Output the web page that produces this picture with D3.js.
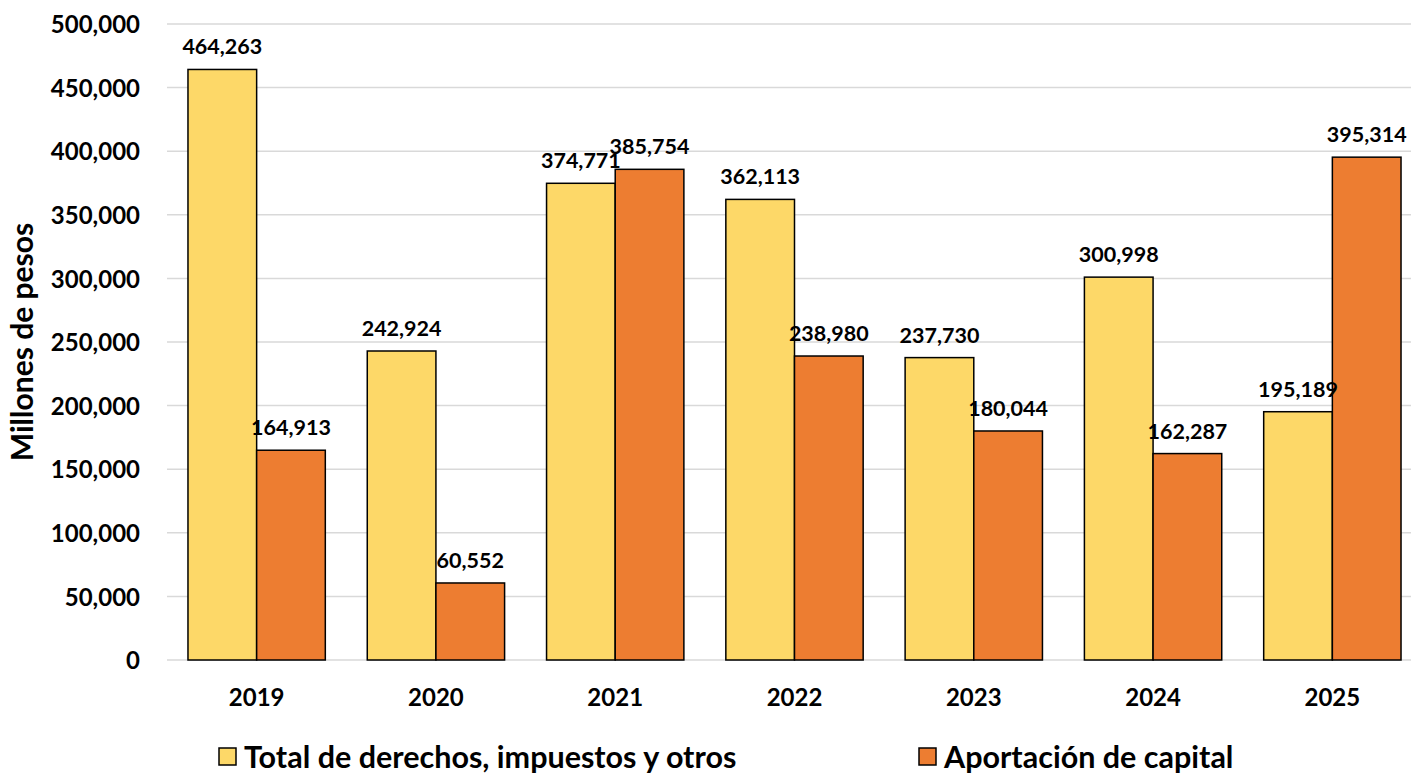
<!DOCTYPE html>
<html>
<head>
<meta charset="utf-8">
<script src="https://cdn.jsdelivr.net/npm/d3@7"></script>
<style>
  body { margin: 0; background: #fff; }
  svg { font-family: Lato, "Open Sans", sans-serif; font-weight: bold; }
</style>
</head>
<body>
<svg id="chart" width="1411" height="774"></svg>
<script>
// datos
const years = ["2019", "2020", "2021", "2022", "2023", "2024", "2025"];
const totalDerechos = [464263, 242924, 374771, 362113, 237730, 300998, 195189];
const aportacion = [164913, 60552, 385754, 238980, 180044, 162287, 395314];
const yTicks = [0, 50000, 100000, 150000, 200000, 250000, 300000, 350000, 400000, 450000, 500000];
const seriesNames = ["Total de derechos, impuestos y otros", "Aportación de capital"];
const colors = ["#FDD868", "#ED7D31"];

const svg = d3.select("#chart");
const plotL = 167, plotR = 1422, plotT = 24, plotB = 660;

const x = d3.scaleBand().domain(years).range([plotL, plotR])
  .paddingInner(0.234).paddingOuter(0.117);
const x1 = d3.scaleBand().domain([0, 1]).range([0, x.bandwidth()]);
const y = d3.scaleLinear().domain([0, 500000]).range([plotB, plotT]);
const fmt = d3.format(",");

// gridlines
svg.append("g")
  .selectAll("line")
  .data(yTicks)
  .enter()
  .append("line")
  .attr("x1", plotL).attr("x2", 1411)
  .attr("y1", d => y(d)).attr("y2", d => y(d))
  .attr("stroke", "#d9d9d9").attr("stroke-width", 1.5);

// y axis labels
const yAxis = svg.append("g")
  .attr("transform", `translate(${plotL - 27},0)`)
  .call(d3.axisLeft(y).tickValues(yTicks).tickFormat(fmt).tickSize(0).tickPadding(0));
yAxis.select(".domain").remove();
yAxis.selectAll("text")
  .attr("font-family", "Lato, sans-serif").attr("font-weight", "bold")
  .attr("font-size", 24).attr("fill", "#000").attr("dy", "0.36em");

// x axis labels
const xAxis = svg.append("g")
  .attr("transform", `translate(0,${plotB})`)
  .call(d3.axisBottom(x).tickSize(0).tickPadding(0));
xAxis.select(".domain").remove();
xAxis.selectAll("text")
  .attr("font-family", "Lato, sans-serif").attr("font-weight", "bold")
  .attr("font-size", 24).attr("fill", "#000").attr("dy", "1.9em");

const rows = years.map((yr, i) => ({ yr, vals: [totalDerechos[i], aportacion[i]] }));

const grp = svg.selectAll("g.year")
  .data(rows)
  .enter()
  .append("g")
  .attr("class", "year")
  .attr("transform", d => `translate(${x(d.yr)},0)`);

grp.selectAll("rect")
  .data(d => d.vals.map((v, k) => ({ v, k })))
  .enter()
  .append("rect")
  .attr("x", d => x1(d.k))
  .attr("width", x1.bandwidth())
  .attr("y", d => y(d.v))
  .attr("height", d => y(0) - y(d.v))
  .attr("fill", d => colors[d.k])
  .attr("stroke", "#000").attr("stroke-width", 1.5);

grp.selectAll("text.lbl")
  .data(d => d.vals.map((v, k) => ({ v, k })))
  .enter()
  .append("text")
  .attr("class", "lbl")
  .attr("x", d => x1(d.k) + x1.bandwidth() / 2)
  .attr("y", d => y(d.v) - 15)
  .attr("text-anchor", "middle")
  .attr("font-size", 21.5)
  .text(d => fmt(d.v));

// titulo eje y
svg.append("text")
  .attr("transform", "translate(33,342) rotate(-90)")
  .attr("text-anchor", "middle")
  .attr("font-size", 30)
  .text("Millones de pesos");

// leyenda
const legX = [219, 919];
const leg = svg.selectAll("g.leg")
  .data(seriesNames)
  .enter()
  .append("g")
  .attr("class", "leg")
  .attr("transform", (d, i) => `translate(${legX[i]},748)`);
leg.append("rect")
  .attr("width", 17).attr("height", 17)
  .attr("fill", (d, i) => colors[i])
  .attr("stroke", "#000").attr("stroke-width", 1.5);
leg.append("text")
  .attr("x", 25).attr("y", 20)
  .attr("font-size", 30.5)
  .text(d => d);
</script>
</body>
</html>
